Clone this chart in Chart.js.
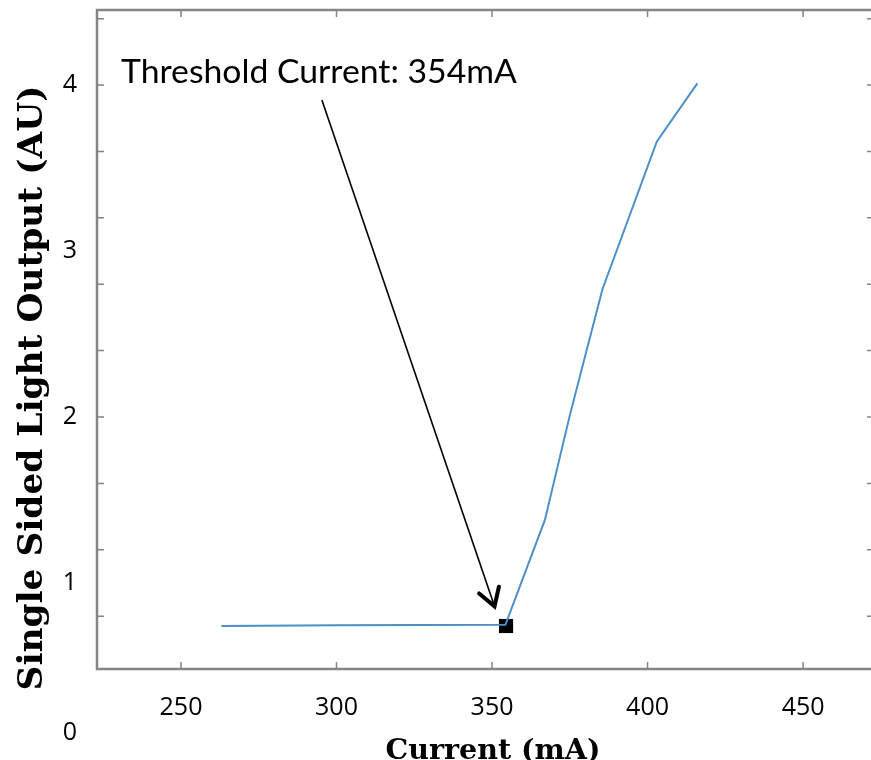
<!DOCTYPE html>
<html>
<head>
<meta charset="UTF-8">
<title>Threshold Current</title>
<script src="https://cdn.jsdelivr.net/npm/chart.js@4.4.1/dist/chart.umd.min.js"></script>
<style>
    body {
        margin: 0;
        padding: 0;
        background: #ffffff;
        overflow: hidden;
    }
    #wrap {
        width: 876px;
        height: 760px;
    }
</style>
</head>
<body>
<div id="wrap"><canvas id="grafico"></canvas></div>
<script>
// datos
const corriente = [263, 300, 354.3, 367, 375, 385.5, 403, 416];
const salida = [0.741, 0.745, 0.748, 1.38, 2.01, 2.77, 3.66, 4.01];

const umbralCorriente = [354.5];
const umbralSalida = [0.741];

const ticksX = [250, 300, 350, 400, 450];
const ticksY = [0.8, 1, 1.2, 1.6, 2, 2.4, 2.8, 3, 3.2, 3.6, 4, 4.4];
const marcasY = [0.8, 1.2, 1.6, 2, 2.4, 2.8, 3.2, 3.6, 4, 4.4];

const textoUmbral = "Threshold Current: 354mA";
const tituloX = "Current (mA)";
const tituloY = "Single Sided Light Output (AU)";

const gris = "#858585";

function ajustarFuente(ctx, texto, peso, familia, ancho) {
    ctx.font = peso + " 40px " + familia;
    const w = ctx.measureText(texto).width;
    const size = 40 * ancho / w;
    ctx.font = peso + " " + size.toFixed(2) + "px " + familia;
}

const marcoPlugin = {
    id: 'marco',
    afterDraw(chart) {
        const ctx = chart.ctx;
        const x = chart.scales.x;
        const y = chart.scales.y;
        const a = chart.chartArea;

        ctx.save();
        // marco
        ctx.strokeStyle = gris;
        ctx.lineWidth = 2.5;
        ctx.beginPath();
        ctx.moveTo(a.right, a.top);
        ctx.lineTo(a.left, a.top);
        ctx.lineTo(a.left, a.bottom);
        ctx.lineTo(a.right, a.bottom);
        ctx.lineTo(a.right, a.top);
        ctx.stroke();

        // marcas hacia adentro
        ctx.lineWidth = 1.5;
        ctx.beginPath();
        ticksX.forEach(v => {
            const px = x.getPixelForValue(v);
            ctx.moveTo(px, a.bottom);
            ctx.lineTo(px, a.bottom - 7);
            ctx.moveTo(px, a.top);
            ctx.lineTo(px, a.top + 7);
        });
        marcasY.forEach(v => {
            const py = y.getPixelForValue(v);
            ctx.moveTo(a.left, py);
            ctx.lineTo(a.left + 7, py);
            ctx.moveTo(a.right, py);
            ctx.lineTo(a.right - 7, py);
        });
        ctx.stroke();

        // flecha
        const x0 = x.getPixelForValue(295.3), y0 = y.getPixelForValue(3.91);
        const x1 = x.getPixelForValue(350.8), y1 = y.getPixelForValue(0.86);
        ctx.strokeStyle = "#000";
        ctx.lineWidth = 1.6;
        ctx.beginPath();
        ctx.moveTo(x0, y0);
        ctx.lineTo(x1, y1);
        ctx.stroke();
        const ang = Math.atan2(y1 - y0, x1 - x0);
        ctx.lineWidth = 4;
        ctx.lineCap = "round";
        ctx.beginPath();
        ctx.moveTo(x1 - 20 * Math.cos(ang - 0.55), y1 - 20 * Math.sin(ang - 0.55));
        ctx.lineTo(x1, y1);
        ctx.lineTo(x1 - 20 * Math.cos(ang + 0.55), y1 - 20 * Math.sin(ang + 0.55));
        ctx.stroke();

        // texto anotacion
        ctx.fillStyle = "#000";
        ajustarFuente(ctx, textoUmbral, "normal", "Lato, 'Open Sans', sans-serif", 396);
        ctx.textAlign = "left";
        ctx.textBaseline = "alphabetic";
        ctx.fillText(textoUmbral, 121, 83);

        // "0" suelto abajo a la izquierda
        ctx.font = "25px 'Open Sans', sans-serif";
        ctx.textAlign = "center";
        ctx.textBaseline = "middle";
        ctx.fillText("0", 70, y.getPixelForValue(0.1));

        // titulos
        ajustarFuente(ctx, tituloX, "bold", "'DejaVu Serif', serif", 215);
        ctx.textAlign = "center";
        ctx.textBaseline = "alphabetic";
        ctx.fillText(tituloX, 493, 759);

        ctx.translate(42, 388);
        ctx.rotate(-Math.PI / 2);
        ajustarFuente(ctx, tituloY, "bold", "'DejaVu Serif', serif", 605);
        ctx.fillText(tituloY, 0, 0);
        ctx.restore();
    }
};

const ctx = document.getElementById('grafico').getContext('2d');

const chart = new Chart(ctx, {
    type: 'line',
    data: {
        datasets: [
            {
                label: 'Output',
                data: corriente.map((c, i) => ({ x: c, y: salida[i] })),
                borderColor: '#4d8fc8',
                borderWidth: 2,
                pointRadius: 0,
                tension: 0,
                fill: false
            },
            {
                label: 'Threshold',
                data: umbralCorriente.map((c, i) => ({ x: c, y: umbralSalida[i] })),
                showLine: false,
                pointStyle: 'rect',
                pointRadius: 10,
                backgroundColor: '#000',
                borderColor: '#000',
                borderWidth: 0
            }
        ]
    },
    options: {
        responsive: true,
        maintainAspectRatio: false,
        animation: false,
        layout: { autoPadding: false, padding: { top: 10, right: 2, left: 0, bottom: 0 } },
        plugins: {
            legend: { display: false },
            tooltip: { enabled: false }
        },
        scales: {
            x: {
                type: 'linear',
                min: 223,
                max: 472.8,
                grid: { display: false, drawTicks: false },
                border: { display: false },
                afterBuildTicks: (scale) => {
                    scale.ticks = ticksX.map(v => ({ value: v }));
                },
                afterFit: (scale) => {
                    scale.height = 91;
                    scale.paddingLeft = 0;
                    scale.paddingRight = 0;
                },
                ticks: {
                    color: '#000',
                    padding: 24,
                    maxRotation: 0,
                    font: { family: "'Open Sans', sans-serif", size: 25 }
                }
            },
            y: {
                type: 'linear',
                min: 0.482,
                max: 4.452,
                grid: { display: false, drawTicks: false },
                border: { display: false },
                afterBuildTicks: (scale) => {
                    scale.ticks = ticksY.map(v => ({ value: v }));
                },
                afterFit: (scale) => {
                    scale.width = 97;
                    scale.paddingTop = 0;
                    scale.paddingBottom = 0;
                },
                ticks: {
                    color: '#000',
                    padding: 20,
                    font: { family: "'Open Sans', sans-serif", size: 25 },
                    callback: (value) => Math.abs(value - Math.round(value)) < 1e-9 ? Math.round(value) : ''
                }
            }
        }
    },
    plugins: [marcoPlugin]
});
</script>
</body>
</html>
